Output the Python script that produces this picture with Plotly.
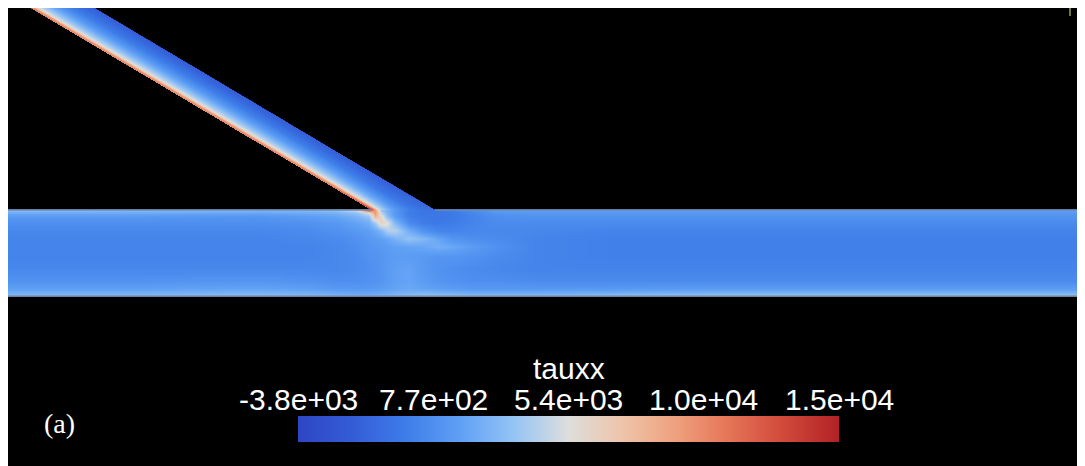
import numpy as np
import plotly.graph_objects as go

# ---------------- colour bar ----------------
tauxx_min = -3840
tauxx_max = 14600
tick_values = [-3840, 770, 5380, 9990, 14600]
tick_labels = ["-3.8e+03", "7.7e+02", "5.4e+03", "1.0e+04", "1.5e+04"]
field_name = "tauxx"
panel_label = "(a)"

# ---------------- main channel samples ----------------
# stations along the channel and heights across it (bottom -> top)
channel_x = [0, 120, 250, 300, 330, 350, 362, 368, 374, 380, 388, 402, 416, 430,
             445, 465, 490, 530, 600, 700, 850, 1000, 1078]
channel_y = [170.5, 172.5, 178, 186, 198, 210, 220, 228, 236, 244, 250, 253.5, 255.5]
# tauxx read at each station (one list per channel_x entry, bottom -> top)
channel_tauxx = [
    [3170, 2610, 1690, 950, 400, 220, 220, 220, 400, 770, 1320, 2250, 3170],
    [3170, 2610, 1690, 950, 400, 220, 220, 220, 400, 770, 1320, 2250, 2980],
    [3350, 2800, 1880, 1140, 400, 220, 220, 220, 400, 770, 1140, 2060, 2800],
    [3170, 2610, 1690, 950, 400, 220, 220, 400, 590, 950, 1510, 2250, 2980],
    [2800, 2250, 1320, 770, 400, 400, 400, 590, 950, 1320, 1880, 2610, 3350],
    [2610, 2060, 1320, 770, 590, 590, 770, 950, 1320, 1880, 2610, 3540, 5010],
    [2610, 2060, 1320, 950, 770, 950, 1140, 1320, 1690, 2430, 3540, 5500, 11830],
    [2700, 2150, 1400, 1050, 950, 1050, 1230, 1500, 2100, 3900, 8000, 9500, 9000],
    [2800, 2250, 1510, 1140, 1140, 1140, 1320, 1690, 2800, 6500, 6000, 4500, 3500],
    [2950, 2400, 1700, 1400, 1400, 1300, 1500, 2000, 4200, 5500, 3200, 2600, 2500],
    [3170, 2610, 1880, 1690, 1690, 1510, 1690, 2600, 4460, 2800, 1500, 1300, 1300],
    [3540, 2800, 2060, 1880, 1880, 1510, 1880, 3500, 2300, 500, 30, -150, -150],
    [3900, 2980, 1880, 1510, 1320, 1320, 2000, 2900, 1000, -150, -340, -520, -520],
    [3900, 2800, 1690, 1140, 950, 1140, 2400, 2000, 300, -340, -520, -520, -520],
    [3720, 2610, 1510, 950, 770, 1140, 2100, 1100, 220, -150, -340, -340, -150],
    [3540, 2430, 1320, 770, 590, 950, 1500, 770, 400, 220, 220, 400, 590],
    [3540, 2430, 1320, 770, 400, 590, 900, 590, 400, 590, 770, 1140, 1510],
    [3540, 2430, 1320, 590, 220, 220, 220, 220, 400, 590, 950, 1320, 1690],
    [3720, 2610, 1320, 590, 220, 30, 30, 30, 220, 590, 950, 1320, 1690],
    [3900, 2800, 1510, 590, 220, 30, 30, 30, 220, 590, 950, 1320, 1690],
    [3900, 2800, 1510, 590, 220, 30, 30, 30, 220, 590, 950, 1320, 1690],
    [3900, 2800, 1510, 590, 220, 30, 30, 30, 220, 590, 950, 1320, 1690],
    [3900, 2800, 1510, 590, 220, 30, 30, 30, 220, 590, 950, 1320, 1690],
]

# ---------------- inclined branch samples ----------------
# heights along the branch, fraction across it (lower wall -> upper wall)
branch_y = [256, 262, 272, 290, 470]
branch_b = [0, 0.04, 0.08, 0.13, 0.2, 0.3, 0.45, 0.65, 0.85, 1.0]
branch_tauxx = [
    [13120, 9810, 6860, 4830, 3540, 2060, 770, -150, -710, -890],
    [12390, 9440, 6860, 5200, 3900, 2430, 950, -340, -1070, -1260],
    [11280, 9250, 6670, 5200, 4090, 2610, 1140, -340, -1260, -1630],
    [10540, 9070, 6490, 5200, 4090, 2800, 1320, -150, -1260, -1810],
    [10540, 9070, 6490, 5200, 4090, 2800, 1320, -150, -1260, -1810],
]

# ---------------- geometry (render length units) ----------------
X_RANGE = [1, 1079]
Y_RANGE = [-2, 458]
X_END = 1078
CH_BOTTOM, CH_TOP = 170, 256
BR_X0 = 365            # lower wall of branch where it meets the channel
BR_WIDTH = 63          # horizontal width of the branch
BR_RUN = 344 / 204     # horizontal run per unit height
BAR_LEFT, BAR_LEN = 291, 541   # colour bar placement (x units)

coolwarm = [
    [0.0, "rgb(46,70,196)"], [0.1, "rgb(52,92,215)"], [0.2, "rgb(62,125,232)"],
    [0.3, "rgb(95,160,245)"], [0.4, "rgb(150,196,245)"], [0.5, "rgb(222,222,220)"],
    [0.6, "rgb(238,196,170)"], [0.7, "rgb(238,160,125)"], [0.8, "rgb(228,115,85)"],
    [0.9, "rgb(208,72,58)"], [1.0, "rgb(178,34,38)"],
]

z_channel = np.array(channel_tauxx).T.tolist()

a_flat, b_flat, x_flat, y_flat, z_flat = [], [], [], [], []
for i, yy in enumerate(branch_y):
    for j, bb in enumerate(branch_b):
        a_flat.append(yy)
        b_flat.append(bb)
        x_flat.append(BR_X0 - (yy - CH_TOP) * BR_RUN + bb * BR_WIDTH)
        y_flat.append(yy)
        z_flat.append(branch_tauxx[i][j])

hidden_axis = dict(showgrid=False, showline=False, showticklabels="none",
                   startline=False, endline=False, minorgridcount=0,
                   linewidth=0, gridwidth=0, gridcolor="rgba(0,0,0,0)",
                   linecolor="rgba(0,0,0,0)")

font_sans = "Liberation Sans, Arial, sans-serif"
W, H = 1078, 460

fig = go.Figure()
fig.add_trace(go.Heatmap(
    x=channel_x, y=channel_y, z=z_channel, zsmooth="best",
    colorscale=coolwarm, zmin=tauxx_min, zmax=tauxx_max, hoverinfo="skip",
    showscale=True,
    colorbar=dict(
        orientation="h",
        x=(BAR_LEFT - X_RANGE[0] + BAR_LEN / 2) / (X_RANGE[1] - X_RANGE[0]),
        xanchor="center",
        y=(24 - Y_RANGE[0]) / (Y_RANGE[1] - Y_RANGE[0]), yanchor="bottom",
        len=BAR_LEN, lenmode="pixels", thickness=26, thicknessmode="pixels",
        xpad=0, ypad=0, outlinewidth=0, ticks="", showticklabels=False,
        tickvals=tick_values, ticktext=tick_labels,
    ),
))
fig.add_trace(go.Carpet(a=a_flat, b=b_flat, x=x_flat, y=y_flat, carpet="branch",
                        aaxis=hidden_axis, baxis=hidden_axis,
                        color="rgba(0,0,0,0)"))
fig.add_trace(go.Contourcarpet(a=a_flat, b=b_flat, z=z_flat, carpet="branch",
                               colorscale=coolwarm, zmin=tauxx_min, zmax=tauxx_max,
                               showscale=False, autocontour=False,
                               contours=dict(start=tauxx_min, end=tauxx_max, size=100,
                                             coloring="fill", showlines=False),
                               line=dict(width=0)))

# colour-bar labels above the bar, centred on their values
annotations = []
for v, lab in zip(tick_values, tick_labels):
    annotations.append(dict(
        x=BAR_LEFT + (v - tauxx_min) / (tauxx_max - tauxx_min) * BAR_LEN, y=66.5,
        xref="x", yref="y", text=lab, showarrow=False, xanchor="center", yanchor="middle",
        font=dict(family=font_sans, size=30, color="white")))
annotations.append(dict(
    x=BAR_LEFT + BAR_LEN / 2, y=97.5, xref="x", yref="y", text=field_name,
    showarrow=False, xanchor="center", yanchor="middle",
    font=dict(family=font_sans, size=30, color="white")))
annotations.append(dict(
    x=52.5, y=43, xref="x", yref="y", text=panel_label, showarrow=False,
    xanchor="center", yanchor="middle",
    font=dict(family="Liberation Serif, Times New Roman, serif", size=28, color="white")))

fig.update_layout(
    width=W, height=H,
    margin=dict(l=0, r=0, t=0, b=0, autoexpand=False),
    paper_bgcolor="white", plot_bgcolor="black",
    showlegend=False,
    xaxis=dict(range=X_RANGE, visible=False, showgrid=False, zeroline=False, fixedrange=True),
    yaxis=dict(range=Y_RANGE, visible=False, showgrid=False, zeroline=False, fixedrange=True),
    shapes=[
        dict(type="line", x0=-5, x1=BR_X0, y0=CH_TOP, y1=CH_TOP,
             line=dict(color="rgb(110,140,180)", width=1.5)),
        dict(type="line", x0=BR_X0 + BR_WIDTH, x1=X_END + 5, y0=CH_TOP, y1=CH_TOP,
             line=dict(color="rgb(110,140,180)", width=1.5)),
        dict(type="line", x0=-5, x1=X_END + 5, y0=CH_BOTTOM, y1=CH_BOTTOM,
             line=dict(color="rgb(120,145,180)", width=1.5)),
        dict(type="line", x0=1063, x1=1063, y0=450, y1=461,
             line=dict(color="rgb(150,160,70)", width=1.5)),
    ],
    annotations=annotations,
)

fig.write_html("out.html")
